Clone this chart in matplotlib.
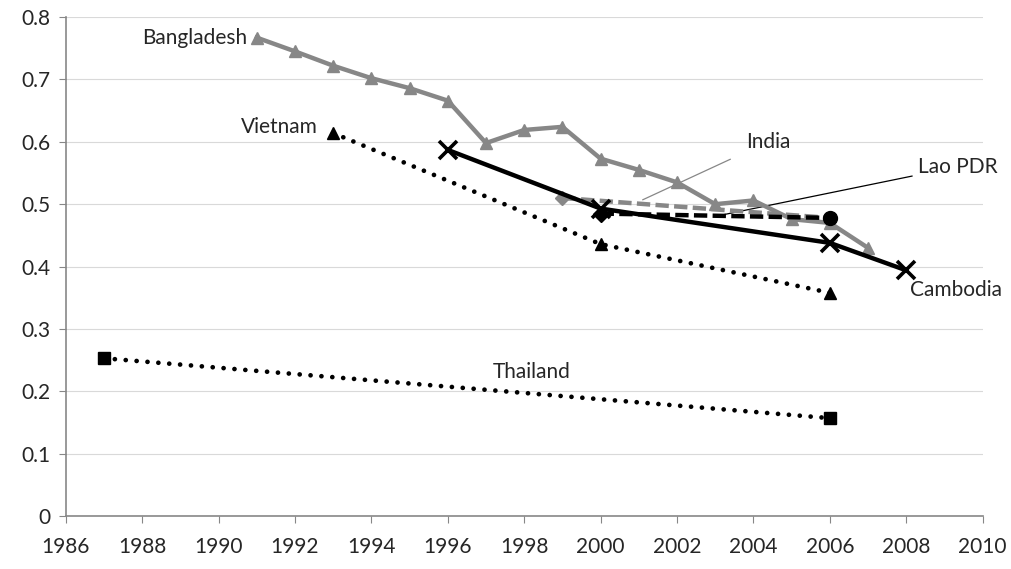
import matplotlib.pyplot as plt

plt.rcParams['font.family'] = ['Lato', 'DejaVu Sans']

# data
bangladesh_years = [1991, 1992, 1993, 1994, 1995, 1996, 1997, 1998, 1999,
                    2000, 2001, 2002, 2003, 2004, 2005, 2006, 2007]
bangladesh_vals = [0.767, 0.745, 0.722, 0.702, 0.686, 0.666, 0.598, 0.619, 0.624,
                   0.573, 0.555, 0.535, 0.500, 0.506, 0.476, 0.470, 0.430]
vietnam_years = [1993, 2000, 2006]
vietnam_vals = [0.614, 0.436, 0.358]
thailand_years = [1987, 2006]
thailand_vals = [0.253, 0.157]
cambodia_years = [1996, 2000, 2006, 2008]
cambodia_vals = [0.587, 0.493, 0.438, 0.394]
india_years = [1999, 2006]
india_vals = [0.510, 0.478]
lao_years = [2000, 2006]
lao_vals = [0.485, 0.478]

GRAY = '#878787'
dots = (0, (0.01, 2.3))

fig = plt.figure(figsize=(10.12, 5.69), dpi=100)
ax = fig.add_axes([0.065, 0.093, 0.906, 0.877])

ax.plot(thailand_years, thailand_vals, color='black', lw=3.4, linestyle=dots,
        dash_capstyle='round', marker='s', ms=9, zorder=3)
ax.plot(vietnam_years, vietnam_vals, color='black', lw=3.4, linestyle=dots,
        dash_capstyle='round', marker='^', ms=9, zorder=3)
ax.plot(bangladesh_years, bangladesh_vals, color=GRAY, lw=3.2, marker='^', ms=9, zorder=4)
ax.plot(india_years, india_vals, color=GRAY, lw=3.2, linestyle=(0, (3, 1.2)),
        marker='D', ms=7, zorder=5)
ax.plot(lao_years, lao_vals, color='black', lw=3.2, linestyle=(0, (3, 1.2)), zorder=6)
ax.plot(lao_years, lao_vals, color='black', lw=0, marker='D', ms=8, markevery=[0], zorder=6)
ax.plot(lao_years, lao_vals, color='black', lw=0, marker='o', ms=10, markevery=[1], zorder=6)
ax.plot(cambodia_years, cambodia_vals, color='black', lw=3.2, marker='x', ms=13,
        mew=2.6, zorder=7)

# labels
tkw = dict(fontsize=15, color='#262626')
ax.text(bangladesh_years[0] - 0.25, bangladesh_vals[0], 'Bangladesh', ha='right', va='center', **tkw)
ax.text(vietnam_years[0] - 0.4, vietnam_vals[0] + 0.01, 'Vietnam', ha='right', va='center', **tkw)
ax.text(1998.2, 0.231, 'Thailand', ha='center', va='center', **tkw)
ax.text(2008.1, 0.362, 'Cambodia', ha='left', va='center', **tkw)
ax.annotate('India', xy=(2001.1, 0.507), xytext=(2003.8, 0.6), ha='left', va='center',
            arrowprops=dict(arrowstyle='-', color=GRAY, lw=0.9, shrinkA=10, shrinkB=0), **tkw)
ax.annotate('Lao PDR', xy=(2003.2, 0.483), xytext=(2008.3, 0.56), ha='left', va='center',
            arrowprops=dict(arrowstyle='-', color='black', lw=0.9, shrinkA=2, shrinkB=0), **tkw)

ax.set_xlim(1986, 2010)
ax.set_ylim(0, 0.8)
ax.set_xticks(range(1986, 2011, 2))
ax.set_yticks([0, 0.1, 0.2, 0.3, 0.4, 0.5, 0.6, 0.7, 0.8])
ax.set_yticklabels(['0', '0.1', '0.2', '0.3', '0.4', '0.5', '0.6', '0.7', '0.8'])
ax.grid(axis='y', color='#d9d9d9', lw=0.8)
ax.set_axisbelow(True)
for side in ['top', 'right']:
    ax.spines[side].set_visible(False)
for side in ['left', 'bottom']:
    ax.spines[side].set_color(GRAY)
    ax.spines[side].set_linewidth(1.2)
ax.tick_params(axis='both', colors=GRAY, labelcolor='#262626', labelsize=15, length=5)
ax.tick_params(axis='x', pad=10)
ax.tick_params(axis='y', pad=6)

fig.savefig('out.png', dpi=100, facecolor='white')
